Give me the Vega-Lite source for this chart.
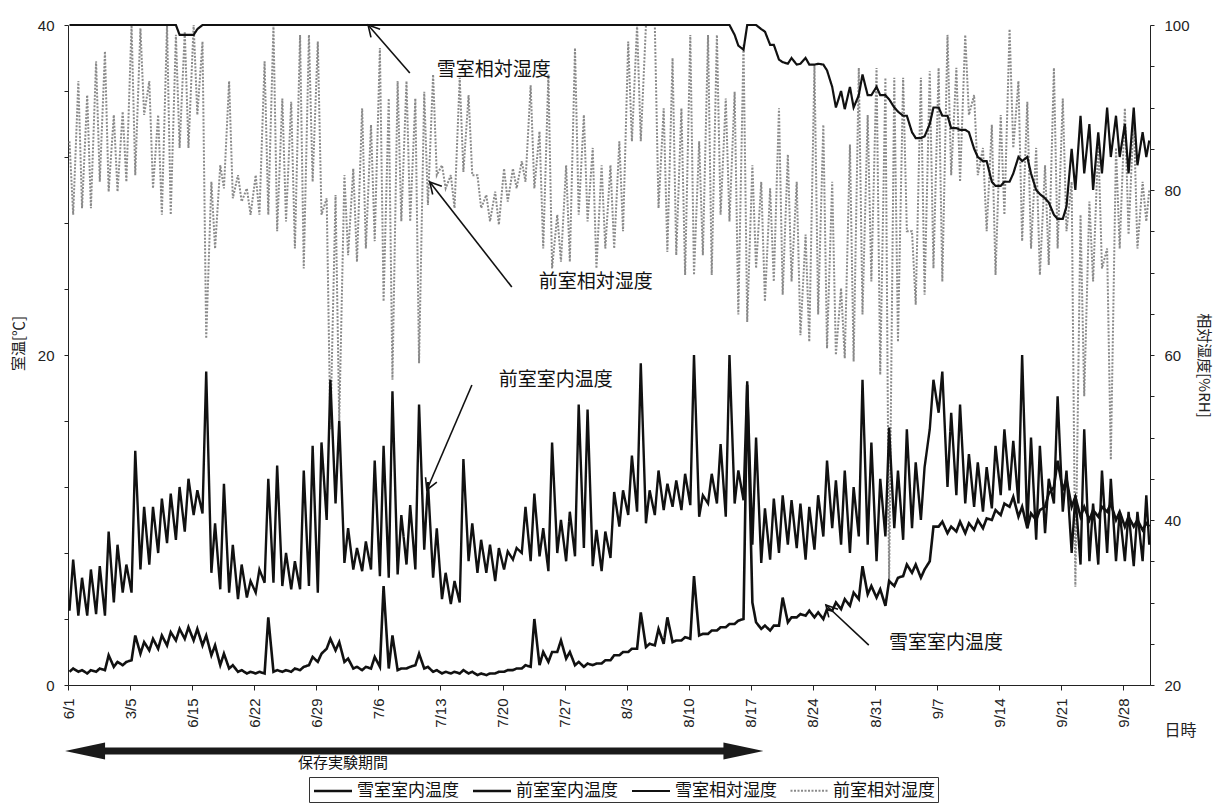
{
"$schema": "https://vega.github.io/schema/vega-lite/v6.json",
"width": 1082, "height": 660,
"autosize": {"type": "none"},
"padding": {"left": 68, "top": 25, "right": 68, "bottom": 120},
"background": "white",
"config": {
  "view": {"stroke": null},
  "axis": {"grid": false, "domainColor": "#222", "tickColor": "#222", "labelColor": "#222", "labelFont": "Liberation Sans", "labelFontSize": 15, "titleFont": "Noto Sans CJK JP", "titleFontWeight": "normal", "titleColor": "#222", "titleFontSize": 15},
  "legend": {"labelFont": "Noto Sans CJK JP", "labelFontSize": 17, "labelColor": "#111", "symbolType": "M-2,0H2", "symbolSize": 361, "symbolOffset": 10, "symbolStrokeWidth": 2, "strokeColor": "#333", "fillColor": "white", "padding": 3, "columnPadding": 9, "labelOffset": 13},
  "text": {"font": "Noto Sans CJK JP"}
},
"data": {"format": {"parse": {"t": "date:'%m/%d %H'"}}, "values": [
{"t":"6/1 4","s":0.8,"f":4.5,"sh":100,"fh":85.9},{"t":"6/1 14","s":1.0,"f":7.6,"sh":100,"fh":77.0},
{"t":"6/2 4","s":0.8,"f":4.2,"sh":100,"fh":93.2},{"t":"6/2 14","s":0.9,"f":6.5,"sh":100,"fh":77.8},
{"t":"6/3 4","s":0.7,"f":4.2,"sh":100,"fh":91.5},{"t":"6/3 14","s":0.9,"f":7.0,"sh":100,"fh":77.8},
{"t":"6/4 4","s":0.8,"f":4.3,"sh":100,"fh":95.6},{"t":"6/4 14","s":1.0,"f":7.2,"sh":100,"fh":81.0},
{"t":"6/5 4","s":0.9,"f":4.2,"sh":100,"fh":96.8},{"t":"6/5 14","s":1.8,"f":9.3,"sh":100,"fh":79.8},
{"t":"6/6 4","s":1.1,"f":5.0,"sh":100,"fh":89.1},{"t":"6/6 14","s":1.4,"f":8.5,"sh":100,"fh":79.8},
{"t":"6/7 4","s":1.2,"f":5.6,"sh":100,"fh":89.5},{"t":"6/7 14","s":1.4,"f":7.3,"sh":100,"fh":81.0},
{"t":"6/8 4","s":1.5,"f":5.6,"sh":100,"fh":100},{"t":"6/8 14","s":3.0,"f":14.2,"sh":100,"fh":81.8},
{"t":"6/9 4","s":1.9,"f":7.0,"sh":100,"fh":99.6},{"t":"6/9 14","s":2.6,"f":10.8,"sh":100,"fh":89.1},
{"t":"6/10 4","s":2.1,"f":7.3,"sh":100,"fh":93.2},{"t":"6/10 14","s":2.8,"f":10.8,"sh":100,"fh":80.2},
{"t":"6/11 4","s":2.2,"f":8.0,"sh":100,"fh":89.1},{"t":"6/11 14","s":3.0,"f":11.3,"sh":100,"fh":77.0},
{"t":"6/12 4","s":2.4,"f":8.6,"sh":100,"fh":100},{"t":"6/12 14","s":3.2,"f":11.6,"sh":100,"fh":77.0},
{"t":"6/13 4","s":2.7,"f":8.8,"sh":100,"fh":98.8},{"t":"6/13 14","s":3.4,"f":12.0,"sh":98.8,"fh":85.1},
{"t":"6/14 4","s":2.8,"f":9.3,"sh":98.8,"fh":99.2},{"t":"6/14 14","s":3.5,"f":12.5,"sh":98.8,"fh":85.1},
{"t":"6/15 4","s":2.7,"f":10.3,"sh":98.8,"fh":100},{"t":"6/15 14","s":3.4,"f":11.8,"sh":99.5,"fh":89.1},
{"t":"6/16 4","s":2.4,"f":10.4,"sh":100,"fh":98.0},{"t":"6/16 14","s":3.0,"f":19.0,"sh":100,"fh":62.0},
{"t":"6/17 4","s":1.8,"f":6.8,"sh":100,"fh":81.0},{"t":"6/17 14","s":2.4,"f":9.8,"sh":100,"fh":72.9},
{"t":"6/18 4","s":1.2,"f":5.8,"sh":100,"fh":83.0},{"t":"6/18 14","s":1.9,"f":12.2,"sh":100,"fh":80.2},
{"t":"6/19 4","s":1.0,"f":5.6,"sh":100,"fh":93.2},{"t":"6/19 14","s":1.2,"f":8.5,"sh":100,"fh":79.0},
{"t":"6/20 4","s":0.8,"f":5.2,"sh":100,"fh":81.8},{"t":"6/20 14","s":0.9,"f":7.3,"sh":100,"fh":78.6},
{"t":"6/21 4","s":0.7,"f":5.3,"sh":100,"fh":80.2},{"t":"6/21 14","s":0.8,"f":6.3,"sh":100,"fh":77.0},
{"t":"6/22 4","s":0.7,"f":5.6,"sh":100,"fh":81.8},{"t":"6/22 14","s":0.8,"f":7.0,"sh":100,"fh":77.0},
{"t":"6/23 4","s":0.7,"f":6.2,"sh":100,"fh":95.6},{"t":"6/23 14","s":4.1,"f":12.5,"sh":100,"fh":77.0},
{"t":"6/24 4","s":0.8,"f":6.2,"sh":100,"fh":100},{"t":"6/24 14","s":0.9,"f":13.3,"sh":100,"fh":75.0},
{"t":"6/25 4","s":0.8,"f":6.0,"sh":100,"fh":91.1},{"t":"6/25 14","s":0.9,"f":8.0,"sh":100,"fh":76.2},
{"t":"6/26 4","s":0.8,"f":5.8,"sh":100,"fh":90.7},{"t":"6/26 14","s":1.0,"f":7.5,"sh":100,"fh":72.9},
{"t":"6/27 4","s":0.9,"f":5.8,"sh":100,"fh":98.8},{"t":"6/27 14","s":1.1,"f":13.0,"sh":100,"fh":70.5},
{"t":"6/28 4","s":1.2,"f":6.0,"sh":100,"fh":98.8},{"t":"6/28 14","s":1.7,"f":14.5,"sh":100,"fh":81.0},
{"t":"6/29 4","s":1.4,"f":5.6,"sh":100,"fh":98.0},{"t":"6/29 14","s":1.9,"f":14.7,"sh":100,"fh":77.0},
{"t":"6/30 4","s":2.2,"f":10.0,"sh":100,"fh":79.0},{"t":"6/30 14","s":2.8,"f":18.5,"sh":100,"fh":51.0},
{"t":"7/1 4","s":2.1,"f":11.0,"sh":100,"fh":79.4},{"t":"7/1 14","s":2.6,"f":16.0,"sh":100,"fh":52.0},
{"t":"7/2 4","s":1.4,"f":7.4,"sh":100,"fh":81.8},{"t":"7/2 14","s":1.6,"f":9.5,"sh":100,"fh":72.1},
{"t":"7/3 4","s":1.0,"f":7.0,"sh":100,"fh":82.6},{"t":"7/3 14","s":1.1,"f":8.3,"sh":100,"fh":71.3},
{"t":"7/4 4","s":0.9,"f":6.9,"sh":100,"fh":89.9},{"t":"7/4 14","s":1.1,"f":8.7,"sh":100,"fh":72.9},
{"t":"7/5 4","s":1.0,"f":7.0,"sh":100,"fh":87.9},{"t":"7/5 14","s":1.7,"f":13.6,"sh":100,"fh":73.8},
{"t":"7/6 4","s":1.1,"f":6.6,"sh":100,"fh":97.2},{"t":"7/6 14","s":6.0,"f":14.5,"sh":100,"fh":66.5},
{"t":"7/7 4","s":1.0,"f":6.5,"sh":100,"fh":91.1},{"t":"7/7 14","s":3.0,"f":17.8,"sh":100,"fh":57.0},
{"t":"7/8 4","s":0.9,"f":6.7,"sh":100,"fh":93.2},{"t":"7/8 14","s":1.0,"f":10.3,"sh":100,"fh":76.2},
{"t":"7/9 4","s":1.0,"f":7.3,"sh":100,"fh":93.2},{"t":"7/9 14","s":1.1,"f":10.9,"sh":100,"fh":76.2},
{"t":"7/10 4","s":1.2,"f":7.0,"sh":100,"fh":91.1},{"t":"7/10 14","s":1.9,"f":17.0,"sh":100,"fh":59.0},
{"t":"7/11 4","s":1.0,"f":8.2,"sh":100,"fh":91.9},{"t":"7/11 14","s":1.1,"f":12.3,"sh":100,"fh":78.2},
{"t":"7/12 4","s":0.8,"f":6.5,"sh":100,"fh":94.0},{"t":"7/12 14","s":0.9,"f":9.5,"sh":100,"fh":81.8},
{"t":"7/13 4","s":0.7,"f":5.2,"sh":100,"fh":83.0},{"t":"7/13 14","s":0.8,"f":6.8,"sh":100,"fh":80.2},
{"t":"7/14 4","s":0.7,"f":4.9,"sh":100,"fh":81.8},{"t":"7/14 14","s":0.8,"f":6.3,"sh":100,"fh":77.8},
{"t":"7/15 4","s":0.7,"f":5.0,"sh":100,"fh":93.6},{"t":"7/15 14","s":0.9,"f":13.7,"sh":100,"fh":82.2},
{"t":"7/16 4","s":0.7,"f":7.5,"sh":100,"fh":91.5},{"t":"7/16 14","s":0.8,"f":9.8,"sh":100,"fh":81.8},
{"t":"7/17 4","s":0.6,"f":6.8,"sh":100,"fh":81.8},{"t":"7/17 14","s":0.7,"f":8.8,"sh":100,"fh":77.8},
{"t":"7/18 4","s":0.6,"f":6.8,"sh":100,"fh":79.4},{"t":"7/18 14","s":0.7,"f":8.5,"sh":100,"fh":76.2},
{"t":"7/19 4","s":0.7,"f":6.3,"sh":100,"fh":79.8},{"t":"7/19 14","s":0.8,"f":8.3,"sh":100,"fh":75.8},
{"t":"7/20 4","s":0.8,"f":7.0,"sh":100,"fh":82.6},{"t":"7/20 14","s":0.9,"f":8.1,"sh":100,"fh":78.6},
{"t":"7/21 4","s":0.9,"f":7.6,"sh":100,"fh":82.6},{"t":"7/21 14","s":1.0,"f":8.3,"sh":100,"fh":80.2},
{"t":"7/22 4","s":1.0,"f":8.0,"sh":100,"fh":83.5},{"t":"7/22 14","s":1.2,"f":10.8,"sh":100,"fh":81.0},
{"t":"7/23 4","s":1.1,"f":7.5,"sh":100,"fh":92.7},{"t":"7/23 14","s":4.0,"f":11.6,"sh":100,"fh":80.2},
{"t":"7/24 4","s":1.2,"f":7.8,"sh":100,"fh":87.1},{"t":"7/24 14","s":2.0,"f":9.5,"sh":100,"fh":72.9},
{"t":"7/25 4","s":1.4,"f":6.9,"sh":100,"fh":94.0},{"t":"7/25 14","s":2.0,"f":14.7,"sh":100,"fh":70.5},
{"t":"7/26 4","s":2.0,"f":8.0,"sh":100,"fh":77.0},{"t":"7/26 14","s":2.7,"f":10.0,"sh":100,"fh":71.3},
{"t":"7/27 4","s":1.6,"f":7.5,"sh":100,"fh":83.0},{"t":"7/27 14","s":2.0,"f":10.5,"sh":100,"fh":71.3},
{"t":"7/28 4","s":1.2,"f":7.8,"sh":100,"fh":97.2},{"t":"7/28 14","s":1.4,"f":17.0,"sh":100,"fh":77.0},
{"t":"7/29 4","s":1.1,"f":8.3,"sh":100,"fh":89.1},{"t":"7/29 14","s":1.3,"f":16.7,"sh":100,"fh":76.2},
{"t":"7/30 4","s":1.2,"f":7.2,"sh":100,"fh":85.1},{"t":"7/30 14","s":1.3,"f":9.4,"sh":100,"fh":70.5},
{"t":"7/31 4","s":1.3,"f":6.9,"sh":100,"fh":83.0},{"t":"7/31 14","s":1.5,"f":9.3,"sh":100,"fh":72.9},
{"t":"8/1 4","s":1.5,"f":7.7,"sh":100,"fh":83.0},{"t":"8/1 14","s":1.8,"f":11.7,"sh":100,"fh":72.9},
{"t":"8/2 4","s":1.8,"f":9.6,"sh":100,"fh":85.9},{"t":"8/2 14","s":2.0,"f":11.8,"sh":100,"fh":75.0},
{"t":"8/3 4","s":2.0,"f":10.3,"sh":100,"fh":98.0},{"t":"8/3 14","s":2.2,"f":13.9,"sh":100,"fh":85.9},
{"t":"8/4 4","s":2.2,"f":10.5,"sh":100,"fh":100},{"t":"8/4 14","s":4.4,"f":19.5,"sh":100,"fh":85.9},
{"t":"8/5 4","s":2.3,"f":9.8,"sh":100,"fh":100},{"t":"8/5 14","s":2.5,"f":11.8,"sh":100,"fh":100},
{"t":"8/6 4","s":2.4,"f":10.3,"sh":100,"fh":100},{"t":"8/6 14","s":3.4,"f":13.0,"sh":100,"fh":77.8},
{"t":"8/7 4","s":2.5,"f":10.6,"sh":100,"fh":89.9},{"t":"8/7 14","s":4.1,"f":12.2,"sh":100,"fh":72.5},
{"t":"8/8 4","s":2.6,"f":10.8,"sh":100,"fh":96.0},{"t":"8/8 14","s":2.7,"f":12.4,"sh":100,"fh":72.1},
{"t":"8/9 4","s":2.7,"f":10.6,"sh":100,"fh":89.9},{"t":"8/9 14","s":2.9,"f":12.8,"sh":100,"fh":69.7},
{"t":"8/10 4","s":2.8,"f":10.9,"sh":100,"fh":98.8},{"t":"8/10 14","s":6.6,"f":20.0,"sh":100,"fh":69.7},
{"t":"8/11 4","s":3.0,"f":10.2,"sh":100,"fh":85.9},{"t":"8/11 14","s":3.1,"f":11.5,"sh":100,"fh":72.1},
{"t":"8/12 4","s":3.1,"f":11.0,"sh":100,"fh":98.8},{"t":"8/12 14","s":3.3,"f":12.8,"sh":100,"fh":69.7},
{"t":"8/13 4","s":3.3,"f":11.0,"sh":100,"fh":98.8},{"t":"8/13 14","s":3.5,"f":14.6,"sh":100,"fh":77.0},
{"t":"8/14 4","s":3.5,"f":10.2,"sh":100,"fh":91.1},{"t":"8/14 14","s":3.7,"f":20.0,"sh":100,"fh":76.2},
{"t":"8/15 4","s":3.7,"f":11.0,"sh":98.8,"fh":91.9},{"t":"8/15 14","s":3.9,"f":13.0,"sh":97.5,"fh":64.9},
{"t":"8/16 4","s":4.0,"f":11.2,"sh":97.0,"fh":97.6},{"t":"8/16 14","s":18.2,"f":18.4,"sh":100,"fh":64.0},
{"t":"8/17 4","s":5.0,"f":8.5,"sh":100,"fh":83.0},{"t":"8/17 14","s":3.8,"f":15.0,"sh":100,"fh":70.5},
{"t":"8/18 4","s":3.4,"f":7.4,"sh":99.5,"fh":81.0},{"t":"8/18 14","s":3.6,"f":10.7,"sh":99.2,"fh":66.5},
{"t":"8/19 4","s":3.3,"f":7.6,"sh":97.6,"fh":80.2},{"t":"8/19 14","s":3.6,"f":11.3,"sh":97.6,"fh":68.9},
{"t":"8/20 4","s":3.6,"f":8.0,"sh":95.8,"fh":89.9},{"t":"8/20 14","s":5.3,"f":11.5,"sh":95.5,"fh":67.3},
{"t":"8/21 4","s":3.8,"f":8.5,"sh":95.3,"fh":84.3},{"t":"8/21 14","s":4.1,"f":11.2,"sh":96.0,"fh":68.9},
{"t":"8/22 4","s":4.1,"f":8.3,"sh":95.2,"fh":81.0},{"t":"8/22 14","s":4.3,"f":11.0,"sh":95.3,"fh":62.4},
{"t":"8/23 4","s":4.2,"f":7.6,"sh":96.0,"fh":74.6},{"t":"8/23 14","s":4.5,"f":10.8,"sh":95.2,"fh":61.6},
{"t":"8/24 4","s":4.1,"f":8.2,"sh":95.2,"fh":95.2},{"t":"8/24 14","s":4.4,"f":11.5,"sh":95.3,"fh":64.9},
{"t":"8/25 4","s":4.0,"f":9.0,"sh":95.2,"fh":87.9},{"t":"8/25 14","s":4.6,"f":13.6,"sh":94.5,"fh":60.8},
{"t":"8/26 4","s":4.5,"f":9.5,"sh":92.5,"fh":81.0},{"t":"8/26 14","s":5.0,"f":12.4,"sh":90.0,"fh":60.0},
{"t":"8/27 4","s":4.6,"f":8.5,"sh":92.0,"fh":68.1},{"t":"8/27 14","s":5.2,"f":13.0,"sh":89.8,"fh":59.6},
{"t":"8/28 4","s":4.8,"f":8.0,"sh":92.5,"fh":85.5},{"t":"8/28 14","s":5.6,"f":12.0,"sh":90.0,"fh":59.2},
{"t":"8/29 4","s":5.2,"f":9.0,"sh":91.5,"fh":94.8},{"t":"8/29 14","s":7.2,"f":18.5,"sh":94.0,"fh":64.9},
{"t":"8/30 4","s":5.5,"f":8.5,"sh":91.5,"fh":89.1},{"t":"8/30 14","s":6.0,"f":14.7,"sh":91.5,"fh":68.9},
{"t":"8/31 4","s":5.3,"f":7.5,"sh":92.5,"fh":94.8},{"t":"8/31 14","s":5.8,"f":12.5,"sh":91.5,"fh":57.6},
{"t":"9/1 4","s":4.8,"f":9.0,"sh":91.5,"fh":93.6},{"t":"9/1 14","s":6.3,"f":15.6,"sh":91.0,"fh":32.4},
{"t":"9/2 4","s":6.0,"f":9.5,"sh":90.0,"fh":93.6},{"t":"9/2 14","s":6.5,"f":13.0,"sh":89.5,"fh":61.6},
{"t":"9/3 4","s":6.6,"f":8.8,"sh":89.0,"fh":93.6},{"t":"9/3 14","s":7.3,"f":15.5,"sh":89.0,"fh":75.0},
{"t":"9/4 4","s":6.8,"f":9.5,"sh":87.0,"fh":75.0},{"t":"9/4 14","s":7.3,"f":13.5,"sh":86.3,"fh":66.1},
{"t":"9/5 4","s":6.5,"f":10.0,"sh":86.3,"fh":93.6},{"t":"9/5 14","s":7.0,"f":13.2,"sh":86.5,"fh":67.3},
{"t":"9/6 4","s":7.5,"f":15.5,"sh":88.0,"fh":94.4},{"t":"9/6 14","s":9.6,"f":18.5,"sh":90.0,"fh":70.5},
{"t":"9/7 4","s":9.6,"f":16.5,"sh":90.0,"fh":94.8},{"t":"9/7 14","s":9.9,"f":19.0,"sh":89.0,"fh":68.9},
{"t":"9/8 4","s":9.2,"f":12.0,"sh":89.0,"fh":98.8},{"t":"9/8 14","s":9.6,"f":16.5,"sh":87.5,"fh":81.8},
{"t":"9/9 4","s":9.3,"f":11.5,"sh":87.5,"fh":94.8},{"t":"9/9 14","s":9.9,"f":17.0,"sh":87.3,"fh":81.0},
{"t":"9/10 4","s":9.2,"f":11.0,"sh":87.3,"fh":98.8},{"t":"9/10 14","s":9.8,"f":14.0,"sh":87.0,"fh":89.1},
{"t":"9/11 4","s":9.4,"f":10.8,"sh":85.0,"fh":91.5},{"t":"9/11 14","s":10.0,"f":13.5,"sh":84.0,"fh":81.8},
{"t":"9/12 4","s":9.5,"f":10.5,"sh":83.5,"fh":85.1},{"t":"9/12 14","s":10.1,"f":13.2,"sh":83.5,"fh":75.0},
{"t":"9/13 4","s":10.0,"f":10.7,"sh":81.0,"fh":87.9},{"t":"9/13 14","s":10.6,"f":14.5,"sh":80.5,"fh":69.7},
{"t":"9/14 4","s":10.3,"f":11.5,"sh":80.5,"fh":89.1},{"t":"9/14 14","s":11.0,"f":15.5,"sh":81.0,"fh":77.0},
{"t":"9/15 4","s":10.8,"f":11.8,"sh":81.0,"fh":99.5},{"t":"9/15 14","s":11.4,"f":14.8,"sh":82.0,"fh":85.1},
{"t":"9/16 4","s":10.2,"f":11.0,"sh":84.0,"fh":93.2},{"t":"9/16 14","s":10.8,"f":20.0,"sh":83.5,"fh":73.8},
{"t":"9/17 4","s":9.5,"f":9.5,"sh":84.0,"fh":90.7},{"t":"9/17 14","s":10.4,"f":15.0,"sh":82.0,"fh":72.9},
{"t":"9/18 4","s":10.0,"f":8.8,"sh":80.0,"fh":85.1},{"t":"9/18 14","s":10.6,"f":14.5,"sh":79.5,"fh":69.7},
{"t":"9/19 4","s":10.8,"f":9.2,"sh":79.0,"fh":83.0},{"t":"9/19 14","s":11.6,"f":12.5,"sh":78.5,"fh":70.9},
{"t":"9/20 4","s":12.0,"f":11.0,"sh":77.0,"fh":94.8},{"t":"9/20 14","s":13.6,"f":17.5,"sh":76.5,"fh":72.9},
{"t":"9/21 4","s":11.8,"f":10.5,"sh":76.5,"fh":91.1},{"t":"9/21 14","s":12.5,"f":13.0,"sh":78.0,"fh":75.0},
{"t":"9/22 4","s":10.8,"f":8.0,"sh":85.0,"fh":81.0},{"t":"9/22 14","s":11.4,"f":11.5,"sh":80.0,"fh":31.9},
{"t":"9/23 4","s":10.2,"f":7.3,"sh":89.0,"fh":77.0},{"t":"9/23 14","s":10.8,"f":15.5,"sh":82.0,"fh":55.0},
{"t":"9/24 4","s":10.0,"f":7.5,"sh":88.0,"fh":78.6},{"t":"9/24 14","s":10.6,"f":11.0,"sh":80.0,"fh":68.9},
{"t":"9/25 4","s":10.2,"f":7.3,"sh":87.0,"fh":85.9},{"t":"9/25 14","s":10.8,"f":13.0,"sh":82.0,"fh":70.5},
{"t":"9/26 4","s":10.5,"f":8.0,"sh":90.0,"fh":72.9},{"t":"9/26 14","s":11.0,"f":12.5,"sh":84.0,"fh":47.3},
{"t":"9/27 4","s":10.0,"f":7.5,"sh":89.0,"fh":85.1},{"t":"9/27 14","s":10.5,"f":10.5,"sh":84.0,"fh":72.9},
{"t":"9/28 4","s":9.6,"f":7.5,"sh":88.0,"fh":89.9},{"t":"9/28 14","s":10.2,"f":10.5,"sh":82.0,"fh":74.6},
{"t":"9/29 4","s":9.6,"f":7.2,"sh":90.0,"fh":89.1},{"t":"9/29 14","s":10.0,"f":10.5,"sh":83.0,"fh":72.9},
{"t":"9/30 4","s":9.4,"f":7.5,"sh":87.0,"fh":81.0},{"t":"9/30 14","s":9.8,"f":11.5,"sh":84.0,"fh":76.2},
{"t":"9/30 22","s":9.6,"f":8.5,"sh":86.0,"fh":80.0}
]},
"layer": [
  {
    "layer": [
      {
        "transform": [{"fold": ["fh", "sh"], "as": ["series", "v"]}],
        "mark": {"type": "line", "interpolate": "linear"},
        "encoding": {
          "x": {"field": "t", "type": "temporal", "scale": {"domain": [{"year": 1900, "month": 6, "date": 1}, {"year": 1900, "month": 10, "date": 1}]}, "title": "日時"},
          "y": {"field": "v", "type": "quantitative", "scale": {"domain": [20, 100], "nice": false, "zero": false},
                "axis": {"orient": "right", "title": "相対湿度[%RH]", "titleAngle": 90, "titleX": 53, "titleY": 340, "titleAlign": "center", "titleBaseline": "middle", "values": [20,25,30,35,40,45,50,55,60,65,70,75,80,85,90,95,100], "labelExpr": "datum.value % 20 == 0 ? datum.label : ''", "tickSize": 4, "labelPadding": 10}},
          "color": {"field": "series", "type": "nominal", "scale": {"domain": ["s", "f", "sh", "fh"], "range": ["#111111", "#111111", "#111111", "#8a8a8a"]},
                    "legend": {"title": null, "orient": "none", "legendX": 241, "legendY": 752, "direction": "horizontal", "labelExpr": "datum.label == 's' ? '雪室室内温度' : datum.label == 'f' ? '前室室内温度' : datum.label == 'sh' ? '雪室相対湿度' : '前室相対湿度'"}},
          "strokeDash": {"field": "series", "type": "nominal", "scale": {"domain": ["s", "f", "sh", "fh"], "range": [[1, 0], [1, 0], [1, 0], [2, 1.5]]},
                    "legend": {"title": null, "orient": "none", "legendX": 241, "legendY": 752, "direction": "horizontal", "labelExpr": "datum.label == 's' ? '雪室室内温度' : datum.label == 'f' ? '前室室内温度' : datum.label == 'sh' ? '雪室相対湿度' : '前室相対湿度'"}},
          "strokeWidth": {"field": "series", "type": "nominal", "scale": {"domain": ["s", "f", "sh", "fh"], "range": [2.6, 2.0, 2.4, 1.1]}, "legend": null}
        }
      }
    ]
  },
  {
    "layer": [
      {
        "transform": [{"fold": ["f", "s"], "as": ["series", "v"]}],
        "mark": {"type": "line", "interpolate": "linear"},
        "encoding": {
          "x": {"field": "t", "type": "temporal", "title": "日時",
                "axis": {"title": "日時", "titleAngle": 0, "titleX": 1112, "titleY": 45, "titleAlign": "center", "titleBaseline": "middle", "titleFontSize": 16,
                         "values": [{"year":1900,"month":6,"date":1},{"year":1900,"month":6,"date":8},{"year":1900,"month":6,"date":15},{"year":1900,"month":6,"date":22},{"year":1900,"month":6,"date":29},{"year":1900,"month":7,"date":6},{"year":1900,"month":7,"date":13},{"year":1900,"month":7,"date":20},{"year":1900,"month":7,"date":27},{"year":1900,"month":8,"date":3},{"year":1900,"month":8,"date":10},{"year":1900,"month":8,"date":17},{"year":1900,"month":8,"date":24},{"year":1900,"month":8,"date":31},{"year":1900,"month":9,"date":7},{"year":1900,"month":9,"date":14},{"year":1900,"month":9,"date":21},{"year":1900,"month":9,"date":28}],
                         "labelExpr": "timeFormat(datum.value, '%-m/%-d') == '6/8' ? '3/5' : timeFormat(datum.value, '%-m/%-d')",
                         "labelAngle": 270, "labelPadding": 8, "tickSize": 5, "labelFlush": false, "labelOverlap": false}},
          "y": {"field": "v", "type": "quantitative", "scale": {"domain": [0, 40], "nice": false},
                "axis": {"orient": "left", "title": "室温[℃]", "titleAngle": 270, "titleX": -50, "titleY": 318, "titleAlign": "center", "titleBaseline": "middle", "values": [0,2,4,6,8,10,12,14,16,18,20,22,24,26,28,30,32,34,36,38,40], "labelExpr": "datum.value % 10 == 0 ? datum.label : ''", "tickSize": 4, "labelPadding": 10}},
          "color": {"field": "series", "type": "nominal", "scale": {"domain": ["s", "f", "sh", "fh"], "range": ["#111111", "#111111", "#111111", "#8a8a8a"]},
                    "legend": {"title": null, "orient": "none", "legendX": 241, "legendY": 752, "direction": "horizontal", "labelExpr": "datum.label == 's' ? '雪室室内温度' : datum.label == 'f' ? '前室室内温度' : datum.label == 'sh' ? '雪室相対湿度' : '前室相対湿度'"}},
          "strokeDash": {"field": "series", "type": "nominal", "scale": {"domain": ["s", "f", "sh", "fh"], "range": [[1, 0], [1, 0], [1, 0], [2, 1.5]]},
                    "legend": {"title": null, "orient": "none", "legendX": 241, "legendY": 752, "direction": "horizontal", "labelExpr": "datum.label == 's' ? '雪室室内温度' : datum.label == 'f' ? '前室室内温度' : datum.label == 'sh' ? '雪室相対湿度' : '前室相対湿度'"}},
          "strokeWidth": {"field": "series", "type": "nominal", "scale": {"domain": ["s", "f", "sh", "fh"], "range": [2.6, 2.0, 2.4, 1.1]}, "legend": null}
        }
      },
      {
        "data": {"format": {"parse": {"t": "date:'%m/%d %H'", "t2": "date:'%m/%d %H'"}}, "values": [
          {"t": "7/9 13", "v": 37.09, "t2": "7/4 20", "v2": 40.0},
          {"t": "7/21 1", "v": 24.12, "t2": "7/11 19", "v2": 30.48},
          {"t": "7/16 13", "v": 18.18, "t2": "7/11 11", "v2": 11.82},
          {"t": "8/30 7", "v": 2.42, "t2": "8/25 11", "v2": 4.85}
        ]},
        "mark": {"type": "rule", "color": "#111", "strokeWidth": 1.6},
        "encoding": {
          "x": {"field": "t", "type": "temporal", "title": "日時"},
          "y": {"field": "v", "type": "quantitative", "title": "室温[℃]"},
          "x2": {"field": "t2"},
          "y2": {"field": "v2"}
        }
      },
      {
        "data": {"format": {"parse": {"t": "date:'%m/%d %H'"}}, "values": [
          {"t": "7/4 20", "v": 40.0},
          {"t": "7/11 19", "v": 30.48},
          {"t": "8/25 11", "v": 4.85}
        ]},
        "mark": {"type": "point", "shape": "M-0.55,1L0,0L0.55,1", "filled": false, "stroke": "#111", "strokeWidth": 1.6, "size": 500, "angle": 318, "opacity": 1},
        "encoding": {
          "x": {"field": "t", "type": "temporal", "title": "日時"},
          "y": {"field": "v", "type": "quantitative", "title": "室温[℃]"}
        }
      },
      {
        "data": {"format": {"parse": {"t": "date:'%m/%d %H'"}}, "values": [
          {"t": "7/11 11", "v": 11.82}
        ]},
        "mark": {"type": "point", "shape": "M-0.55,1L0,0L0.55,1", "filled": false, "stroke": "#111", "strokeWidth": 1.6, "size": 500, "angle": 203, "opacity": 1},
        "encoding": {
          "x": {"field": "t", "type": "temporal", "title": "日時"},
          "y": {"field": "v", "type": "quantitative", "title": "室温[℃]"}
        }
      },
      {
        "data": {"format": {"parse": {"t": "date:'%m/%d %H'"}}, "values": [
          {"t": "7/19 0", "v": 37.27, "label": "雪室相対湿度"},
          {"t": "7/30 12", "v": 24.4, "label": "前室相対湿度"},
          {"t": "7/26 0", "v": 18.48, "label": "前室室内温度"},
          {"t": "9/8 0", "v": 2.55, "label": "雪室室内温度"}
        ]},
        "mark": {"type": "text", "font": "Noto Sans CJK JP", "fontSize": 19, "color": "#111", "align": "center", "baseline": "middle"},
        "encoding": {
          "x": {"field": "t", "type": "temporal", "title": "日時"},
          "y": {"field": "v", "type": "quantitative", "title": "室温[℃]"},
          "text": {"field": "label"}
        }
      },
      {
        "data": {"format": {"parse": {"t": "date:'%m/%d %H'", "t2": "date:'%m/%d %H'"}}, "values": [
          {"t": "6/5 0", "t2": "8/14 0", "v": -4.0}
        ]},
        "mark": {"type": "rule", "color": "#1a1a1a", "strokeWidth": 7, "strokeCap": "butt"},
        "encoding": {
          "x": {"field": "t", "type": "temporal", "title": "日時"},
          "x2": {"field": "t2"},
          "y": {"field": "v", "type": "quantitative", "title": "室温[℃]"}
        }
      },
      {
        "data": {"format": {"parse": {"t": "date:'%m/%d %H'"}}, "values": [
          {"t": "5/31 16", "v": -4.0}
        ]},
        "mark": {"type": "point", "shape": "M0,0L-0.42,2L0.42,2Z", "filled": true, "fill": "#1a1a1a", "size": 1600, "angle": 270, "opacity": 1},
        "encoding": {
          "x": {"field": "t", "type": "temporal", "title": "日時"},
          "y": {"field": "v", "type": "quantitative", "title": "室温[℃]"}
        }
      },
      {
        "data": {"format": {"parse": {"t": "date:'%m/%d %H'"}}, "values": [
          {"t": "8/18 10", "v": -4.0}
        ]},
        "mark": {"type": "point", "shape": "M0,0L-0.42,2L0.42,2Z", "filled": true, "fill": "#1a1a1a", "size": 1600, "angle": 90, "opacity": 1},
        "encoding": {
          "x": {"field": "t", "type": "temporal", "title": "日時"},
          "y": {"field": "v", "type": "quantitative", "title": "室温[℃]"}
        }
      },
      {
        "data": {"format": {"parse": {"t": "date:'%m/%d %H'"}}, "values": [
          {"t": "7/2 0", "v": -4.75, "label": "保存実験期間"}
        ]},
        "mark": {"type": "text", "font": "Noto Sans CJK JP", "fontSize": 15, "color": "#111", "align": "center", "baseline": "middle"},
        "encoding": {
          "x": {"field": "t", "type": "temporal", "title": "日時"},
          "y": {"field": "v", "type": "quantitative", "title": "室温[℃]"},
          "text": {"field": "label"}
        }
      }
    ]
  }
],
"resolve": {"scale": {"y": "independent"}}
}
